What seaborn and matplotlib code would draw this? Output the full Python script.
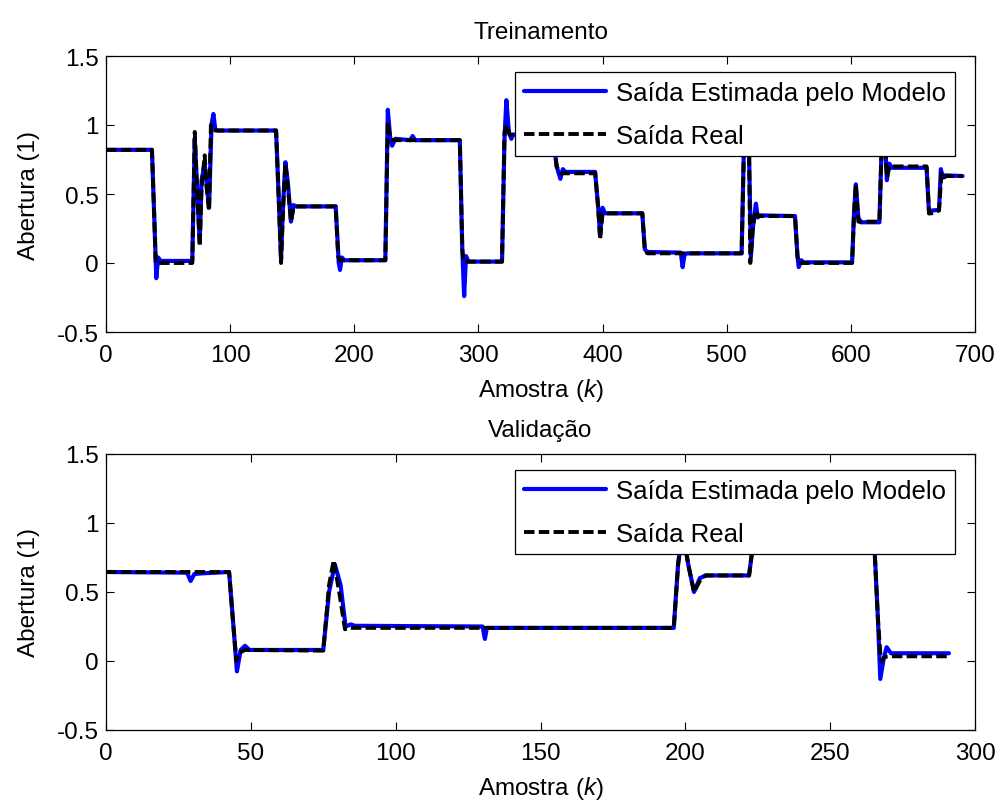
import matplotlib
matplotlib.use("Agg")
import matplotlib.pyplot as plt
import seaborn as sns

# ---- Treinamento: saída real (amostra, abertura) ----
k_real_tr = [0, 37, 39, 40, 69.5, 71.5, 73, 75.5, 77, 79.5, 81, 83, 84.5, 86, 88,
             137, 139, 141, 142.5, 144.5, 146.5, 149, 151, 153, 185, 187, 188,
             225, 227, 229, 231, 285, 287, 288, 319, 321, 323, 325, 360, 363, 366,
             394, 396.5, 398, 400, 432, 434, 436, 512, 514, 516, 518, 519, 521, 523,
             525, 555, 557, 558, 601, 602.5, 604, 606, 623, 625, 627, 629, 631,
             661, 663, 665, 671, 673, 675, 677, 690]
y_real_tr = [0.82, 0.82, 0.30, 0.0, 0.0, 0.95, 0.60, 0.12, 0.55, 0.78, 0.55, 0.38, 1.0, 0.97, 0.96,
             0.96, 0.50, 0.0, 0.35, 0.72, 0.55, 0.30, 0.40, 0.41, 0.41, 0.05, 0.02,
             0.02, 1.02, 0.90, 0.89, 0.89, 0.10, 0.01, 0.01, 0.95, 1.0, 0.93, 0.93, 0.70, 0.65,
             0.65, 0.40, 0.17, 0.36, 0.36, 0.10, 0.07, 0.07, 0.9, 1.2, 0.8, 0.0, 0.25, 0.38,
             0.34, 0.34, 0.05, 0.0, 0.0, 0.35, 0.57, 0.30, 0.30, 0.9, 1.0, 0.62, 0.70,
             0.70, 0.36, 0.36, 0.38, 0.65, 0.62, 0.63, 0.63]

# ---- Treinamento: saída estimada pelo modelo ----
k_est_tr = [0, 37, 39, 40.5, 42, 44, 69.5, 71.5, 73, 75.5, 77, 79.5, 81, 83, 85, 86.5, 88, 90,
            137, 139, 141, 142.5, 144.5, 146.5, 149, 151, 153, 185, 187.5, 188.5, 190, 192,
            225, 227, 229, 230.5, 233, 245, 247, 249, 285, 287, 288.5, 290, 292,
            319, 321, 322.5, 324.5, 326.5, 328, 360, 363, 366, 368, 370,
            394, 396.5, 398, 400, 402, 432, 434, 436, 463, 464.5, 466, 468,
            512, 514, 516, 518, 519.5, 521, 523.5, 525, 527, 555, 557, 558, 560, 562,
            601, 602.5, 604, 606, 608, 623, 625, 627, 629, 631, 633,
            661, 663, 665, 671, 672.5, 674, 676, 690]
y_est_tr = [0.82, 0.82, 0.30, -0.11, 0.04, 0.015, 0.015, 0.90, 0.62, 0.15, 0.60, 0.72, 0.58, 0.40, 1.0, 1.08, 0.97, 0.96,
            0.96, 0.50, 0.03, 0.40, 0.73, 0.58, 0.30, 0.42, 0.41, 0.41, 0.0, -0.05, 0.04, 0.02,
            0.02, 1.11, 0.90, 0.85, 0.90, 0.89, 0.92, 0.89, 0.89, 0.10, -0.24, 0.05, 0.01,
            0.01, 0.90, 1.18, 0.95, 0.90, 0.93, 0.93, 0.70, 0.61, 0.68, 0.66,
            0.66, 0.40, 0.20, 0.40, 0.36, 0.36, 0.10, 0.08, 0.075, -0.03, 0.06, 0.07,
            0.07, 0.9, 1.2, 0.8, 0.05, 0.25, 0.43, 0.33, 0.345, 0.34, 0.05, -0.03, 0.02, 0.005,
            0.005, 0.35, 0.57, 0.33, 0.295, 0.295, 0.9, 1.0, 0.60, 0.72, 0.69,
            0.69, 0.36, 0.38, 0.385, 0.68, 0.62, 0.635, 0.63]

# ---- Validação: saída real ----
k_real_va = [0, 42.5, 44, 45, 46, 48, 75, 77, 78.6, 80.5, 82.5, 84, 196, 197.5, 199, 201,
             203, 205, 207, 222, 224, 265, 266.5, 267.5, 269, 271, 291]
y_real_va = [0.645, 0.645, 0.25, 0.0, 0.06, 0.08, 0.075, 0.55, 0.73, 0.50, 0.23, 0.24, 0.24, 0.70, 0.95, 0.70,
             0.50, 0.58, 0.62, 0.62, 0.95, 0.95, 0.30, 0.0, 0.03, 0.034, 0.034]

# ---- Validação: saída estimada pelo modelo ----
k_est_va = [0, 28, 29.2, 30.5, 33, 42.5, 44, 45.2, 46.5, 48, 49.5, 75, 77, 79, 81, 82.7, 84.5, 86,
            130, 130.8, 131.5, 196, 197.5, 199, 201, 203, 205, 207, 222, 224, 265, 266.5,
            267.3, 268.5, 269.5, 271, 291]
y_est_va = [0.645, 0.64, 0.58, 0.63, 0.635, 0.645, 0.25, -0.075, 0.08, 0.11, 0.08, 0.08, 0.50, 0.70, 0.55, 0.25, 0.265, 0.255,
            0.25, 0.16, 0.24, 0.24, 0.70, 0.95, 0.70, 0.50, 0.60, 0.62, 0.62, 0.95, 0.95, 0.30,
            -0.13, 0.02, 0.10, 0.056, 0.056]

y_ticks = [-0.5, 0, 0.5, 1, 1.5]
y_tick_labels = ["-0.5", "0", "0.5", "1", "1.5"]
x_ticks_tr = [0, 100, 200, 300, 400, 500, 600, 700]
x_ticks_va = [0, 50, 100, 150, 200, 250, 300]

label_est = "Saída Estimada pelo Modelo"
label_real = "Saída Real"

sns.set_style("ticks")
plt.rcParams["font.family"] = ["Liberation Sans", "DejaVu Sans"]
plt.rcParams["mathtext.fontset"] = "custom"
plt.rcParams["mathtext.it"] = "Liberation Sans:italic"
plt.rcParams["mathtext.rm"] = "Liberation Sans"
plt.rcParams["axes.unicode_minus"] = False
plt.rcParams["text.color"] = "black"
plt.rcParams["axes.labelcolor"] = "black"

FS = 17.5
FS_LEG = 18.5
W, H = 998, 803
fig = plt.figure(figsize=(W / 100, H / 100), dpi=100)
ax_tr = fig.add_axes([106 / W, 1 - 333 / H, (975 - 106) / W, 276 / H])
ax_va = fig.add_axes([106 / W, 1 - 731 / H, (975 - 106) / W, 276 / H])

panels = [
    (ax_tr, k_est_tr, y_est_tr, k_real_tr, y_real_tr, x_ticks_tr, (0, 700), "Treinamento"),
    (ax_va, k_est_va, y_est_va, k_real_va, y_real_va, x_ticks_va, (0, 300), "Validação"),
]

for ax, ke, ye, kr, yr, xt, xl, title in panels:
    sns.lineplot(x=ke, y=ye, ax=ax, color="#0000ff", linewidth=3.0,
                 estimator=None, sort=False, label=label_est)
    sns.lineplot(x=kr, y=yr, ax=ax, color="black", linewidth=2.8,
                 linestyle=(0, (2.7, 1.1)), estimator=None, sort=False, label=label_real)
    ax.set_xlim(*xl)
    ax.set_ylim(-0.5, 1.5)
    ax.set_xticks(xt)
    ax.set_xticklabels([str(v) for v in xt])
    ax.set_yticks(y_ticks)
    ax.set_yticklabels(y_tick_labels)
    ax.tick_params(direction="in", top=True, right=True, length=6, width=0.8,
                   labelsize=FS, colors="black")
    ax.tick_params(axis="x", pad=9)
    ax.tick_params(axis="y", pad=5)
    for s in ax.spines.values():
        s.set_visible(True)
        s.set_color("black")
        s.set_linewidth(0.9)
    ax.set_title(title, fontsize=FS, pad=13, color="black")
    ax.set_xlabel(r"Amostra ($\mathit{k}$)", fontsize=FS, labelpad=7)
    ax.set_ylabel("Abertura (1)", fontsize=FS, labelpad=12)
    leg = ax.legend(loc="upper right", bbox_to_anchor=(0.977, 0.942), borderaxespad=0,
                    fontsize=FS_LEG, frameon=True, fancybox=False, framealpha=1,
                    handlelength=3.2, handletextpad=0.4, labelspacing=0.72,
                    borderpad=0.35)
    leg.get_frame().set_edgecolor("black")
    leg.get_frame().set_linewidth(0.9)

fig.savefig("out.png", dpi=100)
